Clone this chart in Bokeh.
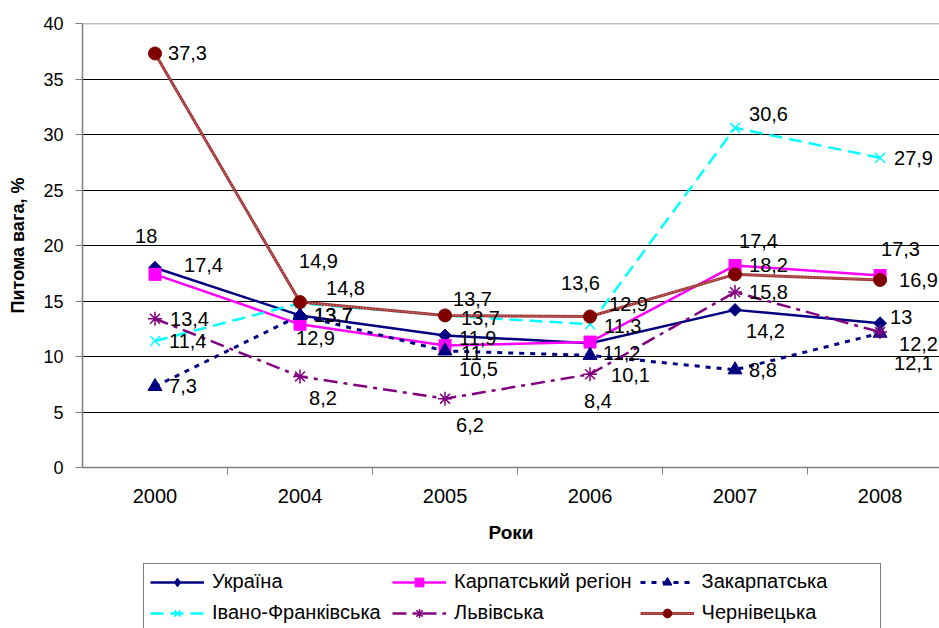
import math
from bokeh.plotting import figure
from bokeh.layouts import column
from bokeh.models import FixedTicker, Legend, LegendItem, Span, ColumnDataSource
from bokeh.core.properties import value
from bokeh.embed import file_html
from bokeh.resources import INLINE

# ---- data ----
years = ["2000", "2004", "2005", "2006", "2007", "2008"]
ukraine = [18, 13.7, 11.9, 11.2, 14.2, 13]
carpathian = [17.4, 12.9, 11, 11.3, 18.2, 17.3]
zakarpattia = [7.3, 13.7, 10.5, 10.1, 8.8, 12.1]
ivano = [11.4, 14.8, 13.7, 12.9, 30.6, 27.9]
lviv = [13.4, 8.2, 6.2, 8.4, 15.8, 12.2]
chernivtsi = [37.3, 14.9, 13.7, 13.6, 17.4, 16.9]
y_ticks = [0, 5, 10, 15, 20, 25, 30, 35, 40]

names = ["Україна", "Карпатський регіон", "Закарпатська",
         "Івано-Франківська", "Львівська", "Чернівецька"]

# ---- label placement (screen px offsets) ----
offsets = {
    "Україна": [(-20, -32), (14, 0), (14, 3), (13, 10), (11, 21), (10, -6)],
    "Карпатський регіон": [(29, -9), (-4, 14), (16, 8), (14, -16), (14, 0), (1, -26)],
    "Закарпатська": [(14, 0), (14, 0), (14, 18), (21, 20), (14, 0), (14, 30)],
    "Івано-Франківська": [(14, 0), (26, -15), (16, 3), (19, -20), (14, -14), (14, 0)],
    "Львівська": [(15, 0), (9, 22), (11, 26), (-6, 27), (14, 0), (19, 12)],
    "Чернівецька": [(13, 0), (-1, -41), (8, -16), (-29, -34), (4, -33), (19, 0)],
}

FONT = "Liberation Sans"

def fmt(v):
    if float(v).is_integer():
        return str(int(v))
    return ("%g" % v).replace(".", ",")

xs = list(range(len(years)))

p = figure(width=939, height=553, x_range=(-0.5, 5.41), y_range=(0, 40),
           output_backend="svg", toolbar_location=None,
           min_border_left=82, min_border_right=0, min_border_top=23,
           min_border_bottom=86)
p.outline_line_color = None
p.background_fill_color = "white"
p.border_fill_color = "white"

# axes
p.xaxis.ticker = FixedTicker(ticks=xs, minor_ticks=[i + 0.5 for i in xs[:-1]])
p.xaxis.major_label_overrides = {i: y for i, y in enumerate(years)}
p.xaxis.major_tick_out = 0
p.xaxis.major_tick_in = 0
p.xaxis.minor_tick_out = 7
p.xaxis.minor_tick_in = 0
p.xaxis.minor_tick_line_color = "#808080"
p.xaxis.axis_line_color = "#808080"
p.xaxis.axis_line_width = 1.5
p.xaxis.major_label_text_font = FONT
p.xaxis.major_label_text_font_size = "20px"
p.xaxis.major_label_text_color = "black"
p.xaxis.major_label_standoff = 14
p.xaxis.axis_label = "Роки"
p.xaxis.axis_label_text_font = FONT
p.xaxis.axis_label_text_font_size = "19px"
p.xaxis.axis_label_text_font_style = "bold"
p.xaxis.axis_label_text_color = "black"
p.xaxis.axis_label_standoff = 16

p.yaxis.ticker = FixedTicker(ticks=y_ticks)
p.yaxis.major_tick_out = 7
p.yaxis.major_tick_in = 0
p.yaxis.minor_tick_out = 0
p.yaxis.minor_tick_in = 0
p.yaxis.major_tick_line_color = "#808080"
p.yaxis.axis_line_color = "#808080"
p.yaxis.axis_line_width = 1.5
p.yaxis.major_label_text_font = FONT
p.yaxis.major_label_text_font_size = "18px"
p.yaxis.major_label_text_color = "black"
p.yaxis.major_label_standoff = 12
p.yaxis.axis_label = "Питома вага, %"
p.yaxis.axis_label_text_font = FONT
p.yaxis.axis_label_text_font_size = "18px"
p.yaxis.axis_label_text_font_style = "bold"
p.yaxis.axis_label_text_color = "black"
p.yaxis.axis_label_standoff = 12

p.xgrid.grid_line_color = None
p.ygrid.ticker = FixedTicker(ticks=y_ticks[1:-1])
p.ygrid.grid_line_color = "black"
p.ygrid.grid_line_width = 1
p.add_layout(Span(location=40, dimension="width", line_color="#808080", line_width=1.5))

styles = {
    "Україна": dict(color="#000080", dash="solid", lw=2.5, marker="square", size=9, angle=math.pi / 4),
    "Карпатський регіон": dict(color="#FF00FF", dash="solid", lw=2.5, marker="square", size=12, angle=0),
    "Закарпатська": dict(color="#000080", dash="5 6", lw=3, marker="triangle", size=14, angle=0),
    "Івано-Франківська": dict(color="#00FFFF", dash="13 7", lw=2.5, marker="x", size=14, angle=0),
    "Львівська": dict(color="#800080", dash="14 6 4 6", lw=2.5, marker="asterisk", size=14, angle=0),
    "Чернівецька": dict(color="#800000", dash="solid", lw=3, marker="circle", size=13, angle=0),
}
series = [ukraine, carpathian, zakarpattia, ivano, lviv, chernivtsi]

# legend-only figure below the chart (its frame is aligned with the chart's frame)
p2 = figure(width=939, height=75, x_range=(100, 101), y_range=(100, 101),
            output_backend="svg", toolbar_location=None,
            min_border_left=0, min_border_right=0, min_border_top=0, min_border_bottom=0)
p2.axis.visible = False
p2.grid.grid_line_color = None
p2.outline_line_color = None
p2.background_fill_color = "white"
p2.border_fill_color = "white"

def draw_series(fig, name, src, for_legend=False):
    st = styles[name]
    rends = []
    if name == "Чернівецька":
        rends.append(fig.line("x", "y", source=src, line_color="#A03535", line_width=3))
        rends.append(fig.line("x", "y", source=src, line_color="#DDA0A0", line_width=1,
                              line_dash="1 2"))
    else:
        rends.append(fig.line("x", "y", source=src, line_color=st["color"], line_width=st["lw"],
                              line_dash=st["dash"]))
    mk_lw = 1.5 if st["marker"] in ("x", "asterisk") else 1
    marker, angle = st["marker"], st["angle"]
    if for_legend and name == "Україна":
        marker, angle = "diamond", 0
    rends.append(fig.scatter("x", "y", source=src, marker=marker, size=st["size"],
                             angle=angle, fill_color=st["color"], line_color=st["color"],
                             line_width=mk_lw))
    return rends

items = []
label_sources = []
for name, vals in zip(names, series):
    src = ColumnDataSource(dict(x=xs, y=vals,
                                txt=[fmt(v) for v in vals],
                                dx=[o[0] for o in offsets[name]],
                                dy=[o[1] for o in offsets[name]]))
    draw_series(p, name, src)
    rends2 = draw_series(p2, name, src, for_legend=True)
    items.append(LegendItem(label=name, renderers=rends2))
    label_sources.append(src)

for src in label_sources:
    p.text("x", "y", text="txt", source=src, x_offset="dx", y_offset="dy",
           text_font=value(FONT), text_font_size="20px", text_color="black",
           text_align="left", text_baseline="middle")

legend = Legend(items=items, location=(61, -3), orientation="horizontal", ncols=3)
legend.label_text_font = FONT
legend.label_text_font_size = "20px"
legend.label_text_color = "black"
legend.glyph_width = 54
legend.glyph_height = 22
legend.label_height = 22
legend.label_width = 172
legend.label_standoff = 8
legend.spacing = 8
legend.padding = 6
legend.margin = 0
legend.border_line_color = "black"
legend.border_line_width = 1
legend.background_fill_color = "white"
legend.background_fill_alpha = 1
p2.add_layout(legend)

layout = column(p, p2, spacing=0)
open("out.html", "w").write(file_html(layout, INLINE))
